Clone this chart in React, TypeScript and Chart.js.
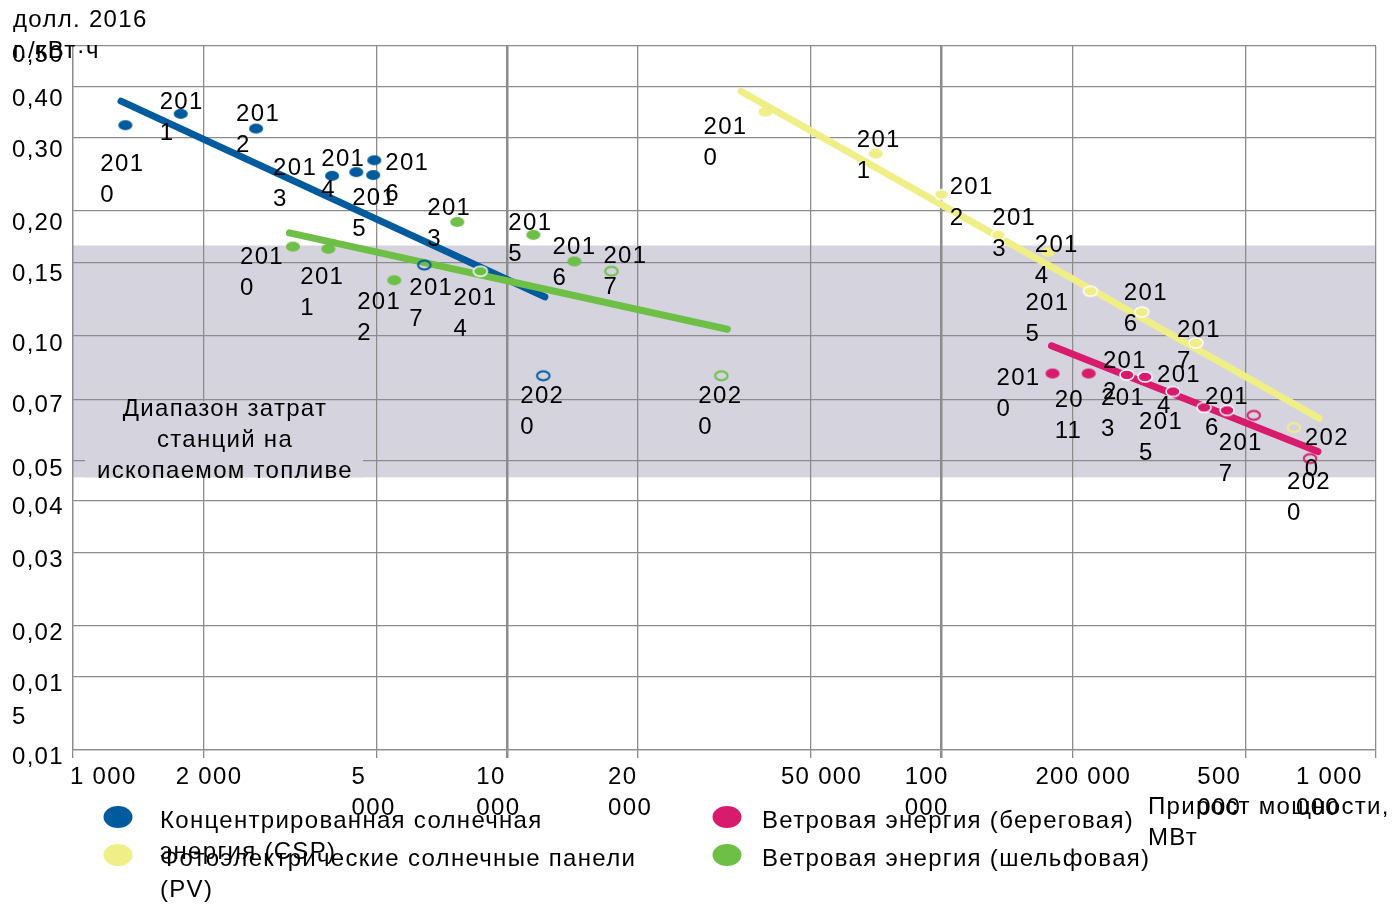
import React, { useEffect, useRef } from 'react';
import { Chart, registerables } from 'chart.js';

Chart.register(...registerables);

// ---------- data ----------
const YEARS = ['2010', '2011', '2012', '2013', '2014', '2015', '2016', '2017', '2020'];

const CSP_CAPACITY = [1320, 1770, 2640, 3950, 4490, 4910, 4940, 6440, 12100];
const CSP_COST = [0.322, 0.343, 0.316, 0.243, 0.248, 0.244, 0.265, 0.148, 0.08];
const CSP_TREND_CAPACITY = [1290, 12200];
const CSP_TREND_COST = [0.368, 0.124];

const PV_CAPACITY = [39300, 70500, 100000, 135000, 175500, 220000, 289000, 385000, 647000];
const PV_COST = [0.347, 0.275, 0.219, 0.175, 0.159, 0.128, 0.114, 0.096, 0.06];
const PV_TREND_CAPACITY = [34500, 740000];
const PV_TREND_COST = [0.389, 0.0632];

const ONSHORE_CAPACITY = [180000, 218000, 267000, 294000, 341000, 402000, 454000, 523000, 705000];
const ONSHORE_COST = [0.081, 0.081, 0.0804, 0.0795, 0.0733, 0.0671, 0.066, 0.0642, 0.0505];
const ONSHORE_TREND_CAPACITY = [179000, 735000];
const ONSHORE_TREND_COST = [0.0945, 0.0525];

const OFFSHORE_CAPACITY = [3210, 3870, 5490, 7670, 8670, 11480, 14270, 17360, 31100];
const OFFSHORE_COST = [0.164, 0.162, 0.136, 0.188, 0.143, 0.175, 0.151, 0.143, 0.08];
const OFFSHORE_TREND_CAPACITY = [3150, 32100];
const OFFSHORE_TREND_COST = [0.177, 0.1036];

const FOSSIL_RANGE = [0.0455, 0.165];

const X_TICKS = [1000, 2000, 5000, 10000, 20000, 50000, 100000, 200000, 500000, 1000000];
const X_TICK_LABELS = [['1 000'], ['2 000'], ['5', '000'], ['10', '000'], ['20', '000'], ['50 000'], ['100', '000'], ['200 000'], ['500', '000'], ['1 000', '000']];
const Y_TICKS = [0.01, 0.015, 0.02, 0.03, 0.04, 0.05, 0.07, 0.1, 0.15, 0.2, 0.3, 0.4, 0.5];
const Y_TICK_LABELS = [['0,01'], ['0,01', '5'], ['0,02'], ['0,03'], ['0,04'], ['0,05'], ['0,07'], ['0,10'], ['0,15'], ['0,20'], ['0,30'], ['0,40'], ['0,50']];

const Y_TITLE = ['долл. 2016', 'г./кВт·ч'];
const X_TITLE = ['Прирост мощности,', 'МВт'];
const FOSSIL_NOTE = ['Диапазон затрат', 'станций на', 'ископаемом топливе'];

// ---------- styles ----------
const FONT = '"Liberation Sans", Arial, Helvetica, sans-serif';
const FS = 24;
const LH = 31;
const SPACING = '1.3px';
const GRID = '#8c8c8c';
const BAND_COLOR = '#d5d4de';

// marker kinds: f = filled, w = filled with white ring, o = open ring
const CSP_MARKERS = ['f', 'f', 'f', 'f', 'f', 'f', 'f', 'o', 'o'];
const PV_MARKERS = ['f', 'f', 'w', 'w', 'f', 'w', 'w', 'w', 'o'];
const ONSHORE_MARKERS = ['f', 'f', 'w', 'w', 'w', 'w', 'w', 'o', 'o'];
const OFFSHORE_MARKERS = ['f', 'f', 'f', 'f', 'w', 'f', 'f', 'o', 'o'];

// label placement relative to point: [dx to left edge, dy to first line centre, split index]
const CSP_LABEL_POS = [[-25, 39], [-21, -11], [-20, -14], [-59, -7], [-35, -13], [-21, 23], [11, 3], [-15, 23], [-23, 21]];
const PV_LABEL_POS = [[-62, 16], [-19, -13], [8, -7], [-6, -17], [-13, -7], [-65, 12], [-18, -19], [-19, -13], [11, 11]];
const ONSHORE_LABEL_POS = [[-56, 5], [-34, 27, 2], [-24, -14], [-44, 21], [-16, -16], [-65, 15], [-22, -13], [-35, 28], [-23, 24]];
const OFFSHORE_LABEL_POS = [[-53, 11], [-28, 29], [-37, 22], [-30, -14], [-27, 27], [-25, -12], [-22, -14], [-8, -15], [-23, 21]];

const X_LABEL_DX = [-3, -28, -25, -31, -30, -30, -37, -37, -48, -80];
const Y_LABEL_DY = [5, 5, 6, 6, 5, 7, 4, 7, 10, 10, 10, 11, 7];

const SERIES = [
  { label: 'Концентрированная солнечная\nэнергия (CSP)', color: '#005a9e', x: CSP_CAPACITY, y: CSP_COST, tx: CSP_TREND_CAPACITY, ty: CSP_TREND_COST, kinds: CSP_MARKERS, pos: CSP_LABEL_POS, lineOrder: 4, legend: [0, 0] },
  { label: 'Фотоэлектрические солнечные панели\n(PV)', color: '#f0ee87', x: PV_CAPACITY, y: PV_COST, tx: PV_TREND_CAPACITY, ty: PV_TREND_COST, kinds: PV_MARKERS, pos: PV_LABEL_POS, lineOrder: 3, legend: [0, 1] },
  { label: 'Ветровая энергия (береговая)', color: '#d81b6d', x: ONSHORE_CAPACITY, y: ONSHORE_COST, tx: ONSHORE_TREND_CAPACITY, ty: ONSHORE_TREND_COST, kinds: ONSHORE_MARKERS, pos: ONSHORE_LABEL_POS, lineOrder: 2, legend: [1, 0] },
  { label: 'Ветровая энергия (шельфовая)', color: '#6dbf45', x: OFFSHORE_CAPACITY, y: OFFSHORE_COST, tx: OFFSHORE_TREND_CAPACITY, ty: OFFSHORE_TREND_COST, kinds: OFFSHORE_MARKERS, pos: OFFSHORE_LABEL_POS, lineOrder: 1, legend: [1, 1] },
];

function makeMarker(kind: string, color: string) {
  const c = document.createElement('canvas');
  c.width = 20;
  c.height = 16;
  const g = c.getContext('2d')!;
  g.beginPath();
  if (kind === 'o') {
    g.ellipse(10, 8, 6.3, 4.4, 0, 0, Math.PI * 2);
    g.strokeStyle = color;
    g.lineWidth = 2;
    g.stroke();
  } else {
    g.ellipse(10, 8, 7, 5, 0, 0, Math.PI * 2);
    g.fillStyle = color;
    g.fill();
    if (kind === 'w') {
      g.strokeStyle = '#ffffff';
      g.lineWidth = 1.5;
      g.stroke();
    }
  }
  return c;
}

function setText(ctx: any, align: string) {
  ctx.fillStyle = '#000';
  ctx.font = `${FS}px ${FONT}`;
  ctx.textAlign = align;
  ctx.textBaseline = 'middle';
  try { ctx.letterSpacing = SPACING; } catch (e) { /* ignore */ }
}

const bandPlugin = {
  id: 'fossilBand',
  beforeDraw(chart: any) {
    const { ctx, chartArea: a, scales } = chart;
    const y = scales.y;
    const top = y.getPixelForValue(FOSSIL_RANGE[1]);
    const bot = y.getPixelForValue(FOSSIL_RANGE[0]);
    ctx.save();
    ctx.fillStyle = '#ffffff';
    ctx.fillRect(0, 0, chart.width, chart.height);
    ctx.fillStyle = BAND_COLOR;
    ctx.fillRect(a.left, top, a.right - a.left, bot - top);
    ctx.restore();
  },
  beforeDatasetsDraw(chart: any) {
    const { ctx, chartArea: a, scales } = chart;
    const y = scales.y;
    const top = y.getPixelForValue(0.07) + 1.5;
    const bot = y.getPixelForValue(FOSSIL_RANGE[0]);
    ctx.save();
    ctx.fillStyle = BAND_COLOR;
    ctx.fillRect(a.left + 12, top, 278, bot - top);
    setText(ctx, 'center');
    const cx = a.left + 152;
    FOSSIL_NOTE.forEach((t, i) => ctx.fillText(t, cx, top + 8 + i * LH));
    ctx.restore();
  },
};

const textPlugin = {
  id: 'texts',
  afterDatasetsDraw(chart: any) {
    const { ctx } = chart;
    ctx.save();
    setText(ctx, 'left');
    SERIES.forEach((s, si) => {
      const meta = chart.getDatasetMeta(si);
      meta.data.forEach((pt: any, j: number) => {
        const p = s.pos[j];
        const split = p[2] || 3;
        const yr = YEARS[j];
        const lines = [yr.slice(0, split), yr.slice(split)];
        lines.forEach((t, k) => ctx.fillText(t, pt.x + p[0], pt.y + p[1] + k * LH));
      });
    });
    ctx.restore();
  },
  afterDraw(chart: any) {
    const { ctx, scales, chartArea: a } = chart;
    ctx.save();
    setText(ctx, 'left');
    // y tick labels
    Y_TICKS.forEach((v, i) => {
      const py = scales.y.getPixelForValue(v);
      Y_TICK_LABELS[i].forEach((t, k) => ctx.fillText(t, 12, py + Y_LABEL_DY[i] + 2 + k * (LH + 2)));
    });
    // x tick labels
    X_TICKS.forEach((v, i) => {
      const px = scales.x.getPixelForValue(v);
      X_TICK_LABELS[i].forEach((t, k) => ctx.fillText(t, px + X_LABEL_DX[i], a.bottom + 27 + k * LH));
    });
    // axis titles
    Y_TITLE.forEach((t, k) => ctx.fillText(t, 13, 20 + k * LH));
    X_TITLE.forEach((t, k) => ctx.fillText(t, 1148, a.bottom + 57 + k * LH));
    // legend
    const colX = [118, 727];
    const textX = [160, 762];
    const rowY = [817, 855];
    SERIES.forEach((s) => {
      const [c, r] = s.legend;
      ctx.beginPath();
      ctx.ellipse(colX[c], rowY[r], 14.5, 11, 0, 0, Math.PI * 2);
      ctx.fillStyle = s.color;
      ctx.fill();
      ctx.fillStyle = '#000';
      s.label.split('\n').forEach((t, k) => ctx.fillText(t, textX[c], rowY[r] + 4 + k * LH));
    });
    ctx.restore();
  },
};

export default function App() {
  const ref = useRef<HTMLCanvasElement>(null);
  useEffect(() => {
    document.body.style.margin = '0';
    const markers: Record<string, HTMLCanvasElement> = {};
    const mk = (k: string, c: string) => {
      const key = k + c;
      if (!markers[key]) markers[key] = makeMarker(k, c);
      return markers[key];
    };
    const pointSets = SERIES.map((s) => ({
      type: 'scatter' as const,
      label: s.label,
      data: s.x.map((v, i) => ({ x: v, y: s.y[i] })),
      pointStyle: s.kinds.map((k) => mk(k, s.color)),
      pointRadius: 7,
      order: 0,
    }));
    const lineSets = SERIES.map((s) => ({
      type: 'scatter' as const,
      label: s.label + ' trend',
      data: s.tx.map((v, i) => ({ x: v, y: s.ty[i] })),
      showLine: true,
      borderColor: s.color,
      borderWidth: 7,
      borderCapStyle: 'round' as const,
      pointRadius: 0,
      order: s.lineOrder,
    }));
    const chart = new Chart(ref.current!, {
      type: 'scatter',
      data: { datasets: [...pointSets, ...lineSets] as any },
      options: {
        animation: false,
        responsive: false,
        devicePixelRatio: 1,
        events: [],
        layout: { padding: { top: 46, right: 17, left: 0, bottom: 0 } },
        plugins: { legend: { display: false }, tooltip: { enabled: false }, title: { display: false } },
        scales: {
          x: {
            type: 'logarithmic',
            min: 1000,
            max: 1000000,
            afterBuildTicks: (s: any) => { s.ticks = X_TICKS.map((v) => ({ value: v })); },
            afterFit: (s: any) => { s.height = 155; },
            ticks: { display: false },
            grid: {
              color: GRID,
              lineWidth: (c: any) => (c.tick && (c.tick.value === 10000 || c.tick.value === 100000) ? 2.5 : 1.3),
              drawTicks: true,
              tickLength: 8,
            },
            border: { color: GRID, width: 1.3 },
          },
          y: {
            type: 'logarithmic',
            min: 0.01,
            max: 0.5,
            afterBuildTicks: (s: any) => { s.ticks = Y_TICKS.map((v) => ({ value: v })); },
            afterFit: (s: any) => { s.width = 73; },
            ticks: { display: false },
            grid: { color: GRID, lineWidth: 1.3, drawTicks: false },
            border: { color: GRID, width: 1.3 },
          },
        },
      } as any,
      plugins: [bandPlugin, textPlugin],
    });
    return () => chart.destroy();
  }, []);
  return (
    <div style={{ width: 1393, height: 905 }}>
      <canvas ref={ref} width={1393} height={905} style={{ display: 'block' }} />
    </div>
  );
}
